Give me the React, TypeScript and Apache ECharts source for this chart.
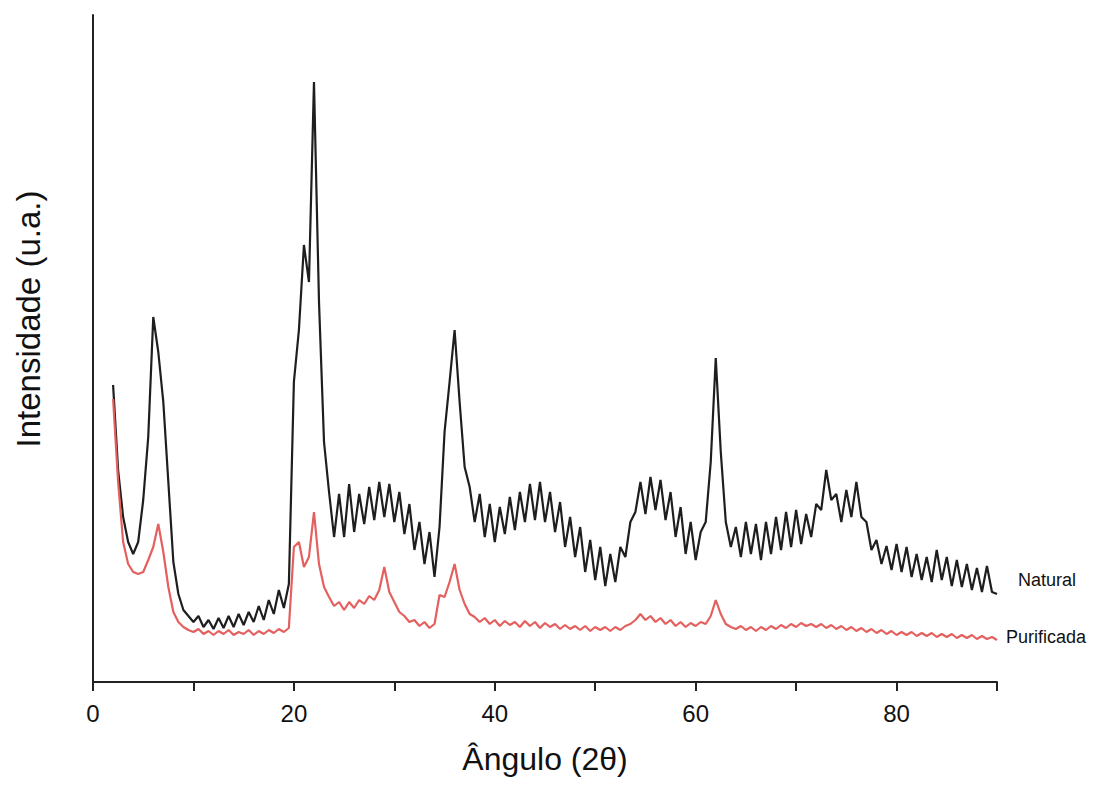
import React, { useEffect, useRef } from "react";
import * as echarts from "echarts";

// Sampling grid: 2.0° to 90.0° in steps of 0.5°
const angles: number[] = Array.from({ length: 177 }, (_, i) => 2 + i * 0.5);

// Intensity (a.u.), one value per angle
const natural: number[] = [
  297, 212, 165, 140, 128, 140, 182, 245, 365, 330,
  280, 200, 120, 88, 72, 66, 60, 66, 55, 62,
  53, 64, 54, 66, 55, 68, 57, 70, 60, 76,
  62, 82, 68, 92, 74, 98, 300, 352, 437, 400,
  600, 380, 240, 190, 145, 188, 145, 198, 150, 188,
  158, 195, 162, 200, 165, 198, 160, 190, 148, 178,
  132, 160, 118, 150, 105, 155, 250, 300, 352, 280,
  215, 195, 160, 188, 145, 178, 140, 175, 148, 185,
  152, 190, 160, 198, 162, 200, 160, 190, 150, 180,
  135, 165, 125, 155, 110, 142, 102, 135, 96, 128,
  100, 135, 125, 160, 170, 200, 168, 205, 172, 202,
  162, 190, 145, 175, 128, 160, 122, 150, 160, 220,
  324, 230, 160, 135, 155, 125, 160, 128, 158, 122,
  160, 128, 165, 132, 170, 135, 172, 138, 168, 145,
  178, 172, 212, 182, 188, 160, 192, 165, 200, 165,
  160, 132, 142, 118, 136, 112, 138, 110, 135, 105,
  128, 102, 125, 100, 132, 102, 125, 96, 122, 95,
  118, 92, 114, 90, 116, 90, 88,
];

const purificada: number[] = [
  283, 200, 140, 118, 110, 108, 110, 122, 135, 158,
  130, 95, 70, 60, 55, 52, 50, 53, 48, 51,
  47, 51, 48, 52, 47, 50, 48, 52, 47, 51,
  48, 52, 49, 53, 50, 54, 135, 140, 115, 125,
  170, 118, 95, 85, 76, 80, 72, 80, 74, 82,
  78, 86, 82, 92, 115, 90, 80, 70, 66, 60,
  62, 56, 60, 54, 58, 87, 85, 100, 118, 92,
  78, 68, 65, 60, 64, 58, 62, 56, 61, 57,
  60, 55, 61, 56, 60, 54, 59, 55, 58, 53,
  57, 53, 56, 52, 56, 51, 55, 52, 55, 51,
  55, 52, 56, 58, 62, 68, 62, 66, 60, 64,
  58, 62, 56, 60, 55, 59, 56, 60, 58, 66,
  82, 68, 58, 55, 53, 56, 52, 55, 51, 55,
  52, 56, 53, 57, 54, 58, 55, 59, 56, 58,
  55, 58, 54, 57, 53, 56, 52, 55, 51, 54,
  50, 53, 49, 52, 48, 51, 47, 50, 47, 50,
  46, 49, 46, 49, 45, 48, 45, 48, 44, 47,
  44, 47, 43, 46, 43, 45, 42,
];

const seriesNames = ["Natural", "Purificada"];
const xTickLabels = ["0", "20", "40", "60", "80"];

export default function App() {
  const ref = useRef<HTMLDivElement>(null);
  useEffect(() => {
    if (!ref.current) return;
    const chart = echarts.init(ref.current, null, { renderer: "svg" });
    const font = "Liberation Sans, Arial, sans-serif";
    const pairs = (vals: number[]) => angles.map((a, i) => [a, vals[i]]);
    chart.setOption({
      animation: false,
      backgroundColor: "#ffffff",
      grid: { left: 93, top: 15, right: 104, bottom: 108 },
      xAxis: {
        type: "value",
        min: 0,
        max: 90,
        interval: 10,
        name: "Ângulo (2θ)",
        nameLocation: "middle",
        nameGap: 61,
        nameTextStyle: { fontSize: 32, color: "#111", fontFamily: font },
        axisLine: { show: true, lineStyle: { color: "#222", width: 2 } },
        axisTick: { show: true, length: 9, lineStyle: { color: "#222", width: 2 } },
        axisLabel: {
          fontSize: 24,
          color: "#111",
          fontFamily: font,
          margin: 19,
          formatter: (v: number) => (xTickLabels.includes(String(v)) ? String(v) : ""),
        },
        splitLine: { show: false },
      },
      yAxis: {
        type: "value",
        min: 0,
        max: 667,
        axisLine: { show: true, onZero: false, lineStyle: { color: "#222", width: 2 } },
        axisTick: { show: false },
        axisLabel: { show: false },
        splitLine: { show: false },
      },
      graphic: [
        {
          type: "text",
          x: 28,
          y: 319,
          rotation: Math.PI / 2,
          style: {
            text: "Intensidade (u.a.)",
            fontSize: 33,
            fill: "#111",
            fontFamily: font,
            align: "center",
            verticalAlign: "middle",
          },
        },
        {
          type: "text",
          x: 1018,
          y: 580,
          style: {
            text: seriesNames[0],
            fontSize: 18,
            fill: "#111",
            fontFamily: font,
            align: "left",
            verticalAlign: "middle",
          },
        },
        {
          type: "text",
          x: 1006,
          y: 637,
          style: {
            text: seriesNames[1],
            fontSize: 18,
            fill: "#111",
            fontFamily: font,
            align: "left",
            verticalAlign: "middle",
          },
        },
      ],
      series: [
        {
          name: seriesNames[0],
          type: "line",
          data: pairs(natural),
          showSymbol: false,
          lineStyle: { color: "#1e1e1e", width: 2.2 },
          z: 2,
        },
        {
          name: seriesNames[1],
          type: "line",
          data: pairs(purificada),
          showSymbol: false,
          lineStyle: { color: "#e4605e", width: 2.2 },
          z: 3,
        },
      ],
    });
    return () => chart.dispose();
  }, []);
  return <div ref={ref} style={{ width: 1101, height: 790, margin: -8 }} />;
}
